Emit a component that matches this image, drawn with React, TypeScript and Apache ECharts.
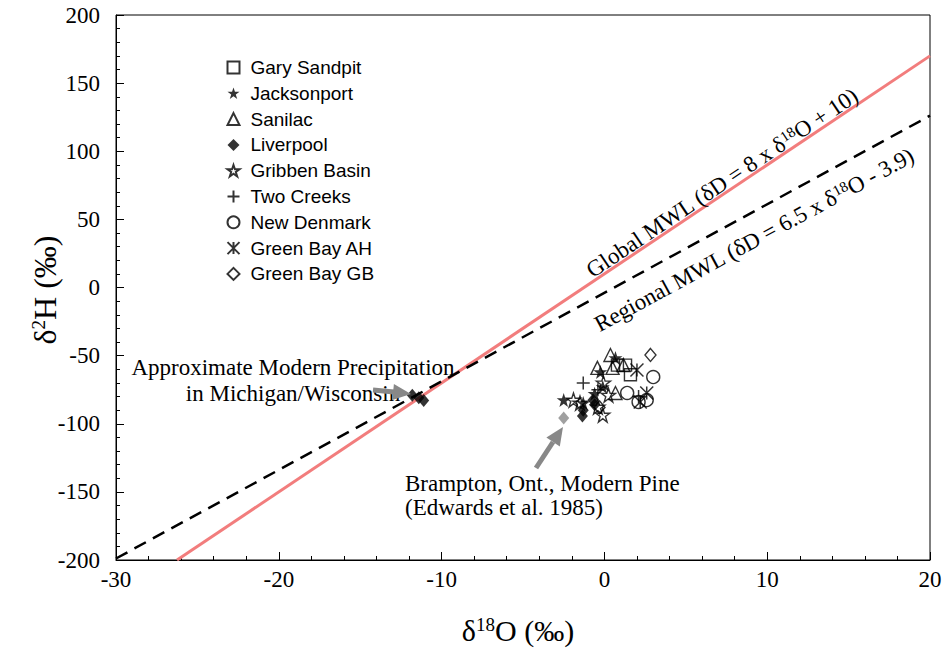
import React, { useEffect, useRef } from "react";
import * as echarts from "echarts";

// ---- Data (δ18O, δ2H) ----
const garySandpit: number[][] = [[0.8, -57], [1.3, -57], [1.6, -64]];
const jacksonport: number[][] = [[0.68, -51.7], [-0.25, -62], [-2.5, -82.6], [-0.1, -73], [-1.3, -84.8], [-0.6, -78]];
const sanilac: number[][] = [[0.37, -49.5], [-0.43, -59], [0.5, -59], [1.17, -57], [0.68, -77.4]];
const liverpool: number[][] = [[-1.3, -90], [-1.35, -94.3], [-0.6, -86], [-0.7, -82.6]];
const gribbenBasin: number[][] = [[-1.9, -82.6], [-0.06, -70], [-0.4, -87.7], [-0.1, -93.6], [0.25, -79], [-1.5, -84.8]];
const twoCreeks: number[][] = [[-1.3, -70], [-0.4, -75], [2.1, -80]];
const newDenmark: number[][] = [[3.0, -65.7], [1.4, -77.4], [2.1, -84], [2.6, -82.6]];
const greenBayAH: number[][] = [[2.0, -60.6], [2.6, -77.4], [2.2, -84]];
const greenBayGB: number[][] = [[2.83, -49.5], [-0.3, -88]];
const modernPrecip: number[][] = [[-11.8, -79], [-11.4, -81], [-11.1, -83]];
const brampton: number[][] = [[-2.5, -95.8]];

// Meteoric water lines: endpoints in δ18O
const globalMwlX = [-26.25, 20];
const regionalMwlX = [-30, 20];
const globalMwl = globalMwlX.map((x) => [x, 8 * x + 10]);
const regionalMwl = regionalMwlX.map((x) => [x, 6.5 * x - 3.9]);

const legendNames = [
  "Gary Sandpit", "Jacksonport", "Sanilac", "Liverpool", "Gribben Basin",
  "Two Creeks", "New Denmark", "Green Bay AH", "Green Bay GB",
];

const STAR = "path://M12 0 L14.9 8.6 L24 8.6 L16.6 14 L19.4 23 L12 17.5 L4.6 23 L7.4 14 L0 8.6 L9.1 8.6 Z";
const PLUS = "path://M6 0 L6 12 M0 6 L12 6";
const ASTER = "path://M0 0 L12 12 M12 0 L0 12 M6 0 L6 12";

const SERIF = "Liberation Serif";
const SANS = "Liberation Sans";

const openStyle = { color: "rgba(255,255,255,0)", borderColor: "#000", borderWidth: 1.4 };
const filledStyle = { color: "#000", borderColor: "#000", borderWidth: 0 };

function sc(name: string, data: number[][], symbol: string, size: any, style: any) {
  return {
    type: "scatter",
    name,
    data,
    symbol,
    symbolSize: size,
    itemStyle: style,
    z: 5,
    silent: true,
  };
}

export default function App() {
  const ref = useRef<HTMLDivElement>(null);
  useEffect(() => {
    if (!ref.current) return;
    const chart = echarts.init(ref.current, undefined, { renderer: "svg" });
    const supRich = {
      sup: { fontSize: 15, fontFamily: SERIF, verticalAlign: "top", lineHeight: 15, fill: "#000" },
    };
    const bigSup = { sup: { fontSize: 19, fontFamily: SERIF, verticalAlign: "top", lineHeight: 18, fill: "#000" } };
    chart.setOption({
      animation: false,
      backgroundColor: "#fff",
      grid: { left: 116, right: 20, top: 15, bottom: 88, show: true, borderColor: "#000", borderWidth: 1, backgroundColor: "transparent" },
      legend: {
        data: legendNames,
        orient: "vertical",
        left: 220,
        top: 53,
        itemWidth: 12,
        itemHeight: 12,
        itemGap: 6.8,
        textStyle: { fontFamily: SANS, fontSize: 19, color: "#000", lineHeight: 16, padding: [0, 0, 0, 6] },
        selectedMode: false,
      },
      xAxis: {
        type: "value",
        min: -30,
        max: 20,
        interval: 10,
        axisLine: { onZero: false, lineStyle: { color: "#000", width: 1 } },
        axisTick: { inside: true, length: 8, lineStyle: { color: "#000" } },
        minorTick: { show: true, splitNumber: 5, length: 4, lineStyle: { color: "#000" } },
        splitLine: { show: false },
        axisLabel: { fontFamily: SERIF, fontSize: 23, color: "#000", margin: 8 },
      },
      yAxis: {
        type: "value",
        min: -200,
        max: 200,
        interval: 50,
        axisLine: { onZero: false, lineStyle: { color: "#000", width: 1 } },
        axisTick: { inside: true, length: 8, lineStyle: { color: "#000" } },
        minorTick: { show: true, splitNumber: 5, length: 4, lineStyle: { color: "#000" } },
        splitLine: { show: false },
        axisLabel: { fontFamily: SERIF, fontSize: 23, color: "#000", margin: 16 },
      },
      series: [
        {
          type: "line", name: "Global MWL", data: globalMwl, symbol: "none", silent: true, z: 2,
          lineStyle: { color: "#F27D7D", width: 3 },
        },
        {
          type: "line", name: "Regional MWL", data: regionalMwl, symbol: "none", silent: true, z: 2,
          lineStyle: { color: "#000", width: 2.5, type: [13, 8] },
        },
        sc("Gary Sandpit", garySandpit, "rect", 12, openStyle),
        sc("Jacksonport", jacksonport, STAR, 14, filledStyle),
        sc("Sanilac", sanilac, "triangle", 13, openStyle),
        sc("Liverpool", liverpool, "diamond", [11, 13], filledStyle),
        sc("Gribben Basin", gribbenBasin, STAR, 14, openStyle),
        sc("Two Creeks", twoCreeks, PLUS, 13, { color: "none", borderColor: "#000", borderWidth: 1.5 }),
        sc("New Denmark", newDenmark, "circle", 13, openStyle),
        sc("Green Bay AH", greenBayAH, ASTER, 13, { color: "none", borderColor: "#000", borderWidth: 1.5 }),
        sc("Green Bay GB", greenBayGB, "diamond", [11, 13], openStyle),
        sc("Modern Precipitation", modernPrecip, "diamond", [11, 13], filledStyle),
        sc("Brampton", brampton, "diamond", [11, 13], { color: "#888", borderWidth: 0 }),
      ],
      graphic: [
        {
          type: "text", x: 722, y: 183, rotation: 0.59, z: 10,
          style: {
            text: "Global MWL (δD = 8 x δ{sup|18}O + 10)",
            fontFamily: SERIF, fontSize: 23, fill: "#000", align: "center", verticalAlign: "middle",
            rich: supRich,
          },
        },
        {
          type: "text", x: 754, y: 240, rotation: 0.497, z: 10,
          style: {
            text: "Regional MWL (δD = 6.5 x δ{sup|18}O - 3.9)",
            fontFamily: SERIF, fontSize: 23, fill: "#000", align: "center", verticalAlign: "middle",
            rich: supRich,
          },
        },
        {
          type: "text", x: 45, y: 290, rotation: Math.PI / 2, z: 10,
          style: {
            text: "δ{sup|2}H (‰)",
            fontFamily: SERIF, fontSize: 32, fill: "#000", align: "center", verticalAlign: "middle",
            rich: bigSup,
          },
        },
        {
          type: "text", x: 518, y: 630, z: 10,
          style: {
            text: "δ{sup|18}O (‰)",
            fontFamily: SERIF, fontSize: 30, fill: "#000", align: "center", verticalAlign: "middle",
            rich: bigSup,
          },
        },
        {
          type: "text", x: 293, y: 380, z: 10,
          style: {
            text: "Approximate Modern Precipitation\nin Michigan/Wisconsin",
            fontFamily: SERIF, fontSize: 23, fill: "#000", align: "center", verticalAlign: "middle", lineHeight: 26,
          },
        },
        {
          type: "text", x: 405, y: 495, z: 10,
          style: {
            text: "Brampton, Ont., Modern Pine\n(Edwards et al. 1985)",
            fontFamily: SERIF, fontSize: 23, fill: "#000", align: "left", verticalAlign: "middle", lineHeight: 24,
          },
        },
        // arrow 1
        { type: "line", z: 11, shape: { x1: 373, y1: 390, x2: 394, y2: 392 }, style: { stroke: "#888", lineWidth: 5 } },
        { type: "polygon", z: 11, shape: { points: [[411, 394], [392.3, 400.1], [393.9, 384.1]] }, style: { fill: "#888" } },
        // arrow 2
        { type: "line", z: 11, shape: { x1: 536, y1: 468, x2: 553, y2: 442 }, style: { stroke: "#888", lineWidth: 5 } },
        { type: "polygon", z: 11, shape: { points: [[563, 427], [559.8, 446.4], [546.4, 437.6]] }, style: { fill: "#888" } },
      ],
    });
    return () => chart.dispose();
  }, []);
  return <div ref={ref} style={{ width: 950, height: 648, position: "absolute", left: 0, top: 0 }} />;
}
